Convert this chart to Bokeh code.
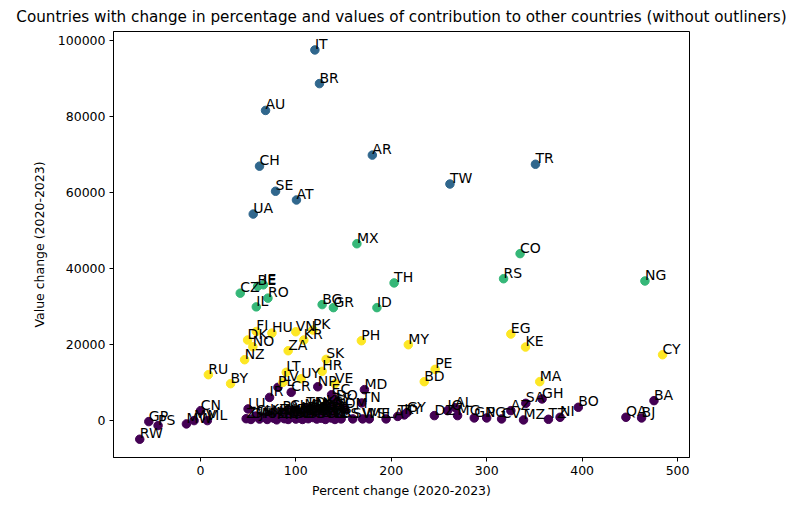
from bokeh.plotting import figure
from bokeh.models import ColumnDataSource, Range1d, FixedTicker, BasicTickFormatter
from bokeh.transform import linear_cmap
from bokeh.palettes import Viridis256
from bokeh.core.properties import value
from bokeh.embed import file_html
from bokeh.resources import INLINE

# cluster 0 = purple, 1 = dark blue, 2 = green, 3 = yellow
codes_blue = ["IT", "BR", "AU", "CH", "SE", "AT", "UA", "AR", "TW", "TR"]
pct_blue = [120, 124.8, 68.3, 62, 78.8, 100.7, 55.4, 180.2, 261.5, 351.1]
val_blue = [97450, 88600, 81550, 66900, 60300, 58000, 54300, 69800, 62200, 67400]

codes_green = ["MX", "CO", "RS", "NG", "TH", "ID", "GR", "BG", "CZ", "BE", "IE", "RO", "IL"]
pct_green = [164, 335, 317.7, 465.8, 203, 185, 139.4, 127.6, 41.8, 60, 66, 70.8, 58.6]
val_green = [46500, 43900, 37300, 36700, 36200, 29700, 29700, 30500, 33500, 35300, 35700, 32200, 29900]

codes_yellow = ["EG", "KE", "CY", "MY", "PE", "BD", "MA", "PH", "SK", "HR", "VE", "FI",
                "HU", "VN", "PK", "KR", "ZA", "DK", "NO", "NZ", "RU", "BY", "LT", "UY", "LV"]
pct_yellow = [325.3, 340.7, 484.3, 217.9, 246, 234.6, 355.6, 168.7, 131.8, 127.6, 141, 58.6,
              75, 100, 117.9, 108.4, 92, 49.5, 55, 46.4, 8.4, 31.7, 90, 105.6, 86.5]
val_yellow = [22750, 19340, 17320, 19950, 13470, 10240, 10240, 21000, 16100, 12950, 9700, 23440,
              23000, 23360, 23800, 21180, 18370, 21180, 19420, 16010, 12070, 9710, 12700, 11000, 10050]

codes_purple = ["RW", "GP", "PS", "MW", "MV", "CN", "ML",
                "LU", "IR", "PL", "CR", "NP", "EC", "DO", "MD", "TN", "KG", "OM", "SY", "UG",
                "BS", "SV", "WS", "ME", "LA", "TT", "KY", "GY",
                "DZ", "IQ", "AL", "MG", "GN", "PG", "CV", "AZ", "SA", "GH", "MZ", "TZ", "NI",
                "BO", "BA", "QA", "BJ",
                "ZM", "GM", "CU", "JM", "SN", "UZ", "KZ", "AM", "MN", "HN", "PA", "BF", "NE",
                "CM", "CI", "ET", "SD", "YE", "AF", "LY", "JO", "LK", "MM", "KH", "PY", "SI",
                "EE", "MT", "IS", "MK", "BW", "NA", "MU", "ZW", "AO", "CD", "CG", "GA", "TG",
                "SL", "HT", "LR", "LB", "GE", "TD", "SO"]
pct_purple = [-63.5, -54, -44.3, -14.6, -6.6, 0.3, 7.3,
              50, 72.5, 81.3, 95.2, 123, 137.5, 142, 171.9, 169.1, 131.8, 151, 140, 128,
              147.5, 159.7, 170, 177, 194.6, 206.8, 213.7, 216.5,
              245.2, 259, 267, 269.5, 287, 300, 315.6, 325.3, 341, 358, 338.6, 364.7, 376.9,
              396, 475.3, 445.9, 462.3,
              48, 53, 58, 62, 66, 70, 73, 77, 80, 83, 86, 88, 90,
              92, 94, 96, 100, 101, 103, 104, 106, 107, 109, 110, 112, 113,
              115, 118, 119, 121, 122, 124, 125, 127, 128, 130, 131, 133, 135,
              137, 139, 141, 98, 116, 111, 105]
val_purple = [-4900, -260, -1300, -870, 0, 2620, 0,
              3070, 6100, 8740, 7430, 8900, 6800, 5250, 8140, 4640, 3900, 3070, 4200, 3400,
              450, 450, 450, 450, 450, 1100, 1500, 2100,
              1310, 2620, 3400, 1310, 700, 700, 440, 2620, 4540, 5690, 180, 340, 870,
              3500, 5250, 870, 700,
              500, 300, 1200, 400, 900, 300, 1500, 600, 200, 1100, 2200, 500, 1400,
              300, 2600, 900, 400, 1200, 2100, 700, 1500, 300, 2800, 1000, 1900, 500,
              1300, 800, 1700, 3000, 400, 1100, 2000, 600, 1500, 2600, 300, 1200, 2000,
              700, 1600, 300, 1800, 2400, 3300, 1700]

codes = codes_purple + codes_blue + codes_green + codes_yellow
pct = pct_purple + pct_blue + pct_green + pct_yellow
val = val_purple + val_blue + val_green + val_yellow
cluster = ([0] * len(codes_purple) + [1] * len(codes_blue)
           + [2] * len(codes_green) + [3] * len(codes_yellow))

src = ColumnDataSource(dict(x=pct, y=val, code=codes, cluster=cluster))

FONT = "DejaVu Sans"

p = figure(frame_width=576, frame_height=426, output_backend="svg", toolbar_location=None,
           x_range=Range1d(-91, 512.5), y_range=Range1d(-9700, 102300),
           min_border_left=113, min_border_right=104, min_border_top=0, min_border_bottom=0,
           title="Countries with change in percentage and values of contribution to other countries (without outliners)")

p.title.text_font = FONT
p.title.text_font_size = "15.2px"
p.title.text_font_style = "normal"
p.title.align = "center"
p.title.text_color = "black"
p.title.standoff = 11

p.grid.visible = False
p.outline_line_color = "black"
p.outline_line_width = 1

for ax in (p.xaxis, p.yaxis):
    ax.axis_line_color = "black"
    ax.major_tick_line_color = "black"
    ax.major_tick_out = 4
    ax.major_tick_in = 0
    ax.minor_tick_line_color = None
    ax.major_label_text_font = FONT
    ax.major_label_text_font_size = "12.5px"
    ax.major_label_text_color = "black"
    ax.axis_label_text_font = FONT
    ax.axis_label_text_font_size = "12.5px"
    ax.axis_label_text_font_style = "normal"
    ax.axis_label_text_color = "black"

p.xaxis.ticker = FixedTicker(ticks=[0, 100, 200, 300, 400, 500])
p.yaxis.ticker = FixedTicker(ticks=[0, 20000, 40000, 60000, 80000, 100000])
p.yaxis.formatter = BasicTickFormatter(use_scientific=False)
p.xaxis.axis_label = "Percent change (2020-2023)"
p.yaxis.axis_label = "Value change (2020-2023)"
p.xaxis.major_label_standoff = 4
p.yaxis.major_label_standoff = 4
p.xaxis.axis_label_standoff = 5
p.yaxis.axis_label_standoff = 8

p.scatter("x", "y", source=src, size=8.5,
          fill_color=linear_cmap("cluster", Viridis256, 0, 3),
          line_color=linear_cmap("cluster", Viridis256, 0, 3))

p.text("x", "y", text="code", source=src, text_font=value(FONT), text_font_size="14px",
       text_align="left", text_baseline="alphabetic", text_color="black", y_offset=-6)

open("out.html", "w").write(file_html(p, INLINE))
